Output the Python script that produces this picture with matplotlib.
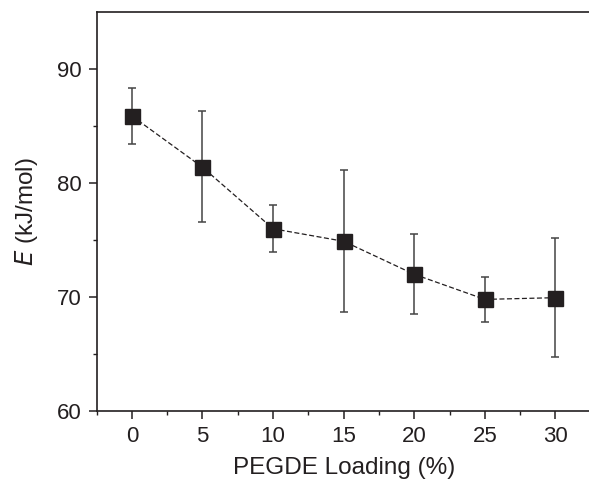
import numpy as np
import matplotlib.pyplot as plt
from matplotlib.ticker import MultipleLocator

plt.rcParams['font.family'] = ['Liberation Sans', 'DejaVu Sans']

loading = [0, 5, 10, 15, 20, 25, 30]
energy = [85.9, 81.4, 76.0, 74.9, 72.0, 69.8, 69.95]
err_upper = [88.4, 86.35, 78.1, 81.2, 75.5, 71.8, 75.15]
err_lower = [83.45, 76.55, 73.95, 68.65, 68.5, 67.85, 64.7]

energy = np.array(energy)
yerr = [energy - np.array(err_lower), np.array(err_upper) - energy]

dark = "#231f20"

fig = plt.figure(figsize=(5.89, 4.83), dpi=100)
ax = fig.add_axes([0.164, 0.149, 0.839, 0.8255])

ax.errorbar(loading, energy, yerr=yerr, fmt="none", ecolor="#444444",
            elinewidth=1.1, capsize=3.2, capthick=1.1, zorder=2)
ax.plot(loading, energy, color=dark, linestyle=(0, (4, 2)), linewidth=0.9,
        marker="s", markersize=10.8, markerfacecolor=dark,
        markeredgecolor=dark, zorder=3)

ax.set_xlim(-2.5, 32.5)
ax.set_ylim(60, 95)
ax.xaxis.set_major_locator(MultipleLocator(5))
ax.xaxis.set_minor_locator(MultipleLocator(2.5))
ax.yaxis.set_major_locator(MultipleLocator(10))
ax.set_yticks([65, 75, 85], minor=True)

for s in ax.spines.values():
    s.set_linewidth(1.2)
    s.set_color(dark)
# right frame edge falls outside the cropped picture
ax.spines['right'].set_visible(False)

ax.tick_params(which="major", direction="out", length=6, width=1.1,
               labelsize=16, colors=dark, top=False, right=False, pad=5)
ax.tick_params(which="minor", direction="out", length=3, width=1.0,
               colors=dark, top=False, right=False)

ax.set_xlabel("PEGDE Loading (%)", fontsize=17.5, color=dark, labelpad=7)
ax.set_ylabel("$\\it{E}$ (kJ/mol)", fontsize=17.5, color=dark, labelpad=12)

fig.savefig("out.png", dpi=100)
